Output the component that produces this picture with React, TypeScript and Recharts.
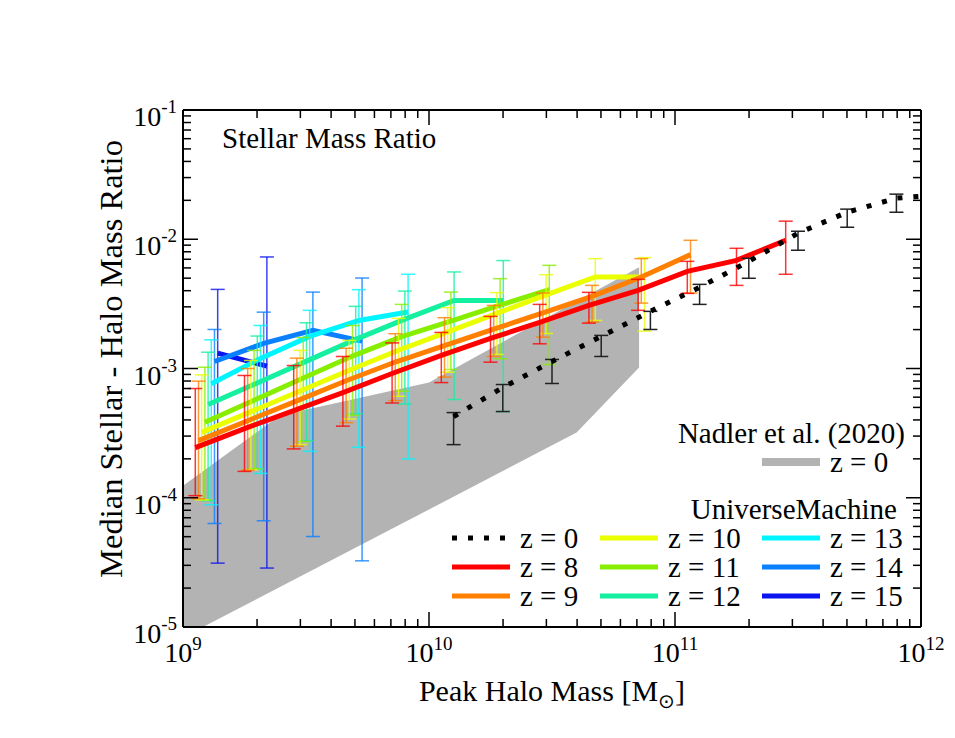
import React from "react";
import { ComposedChart, Line, Area, XAxis, YAxis, ErrorBar } from "recharts";

const FONT = '"Liberation Serif", "Times New Roman", serif';
const textStyle = { fontFamily: FONT };

// tick positions (minor + major) on both log axes
const massTicks = [
  1e9, 2e9, 3e9, 4e9, 5e9, 6e9, 7e9, 8e9, 9e9,
  1e10, 2e10, 3e10, 4e10, 5e10, 6e10, 7e10, 8e10, 9e10,
  1e11, 2e11, 3e11, 4e11, 5e11, 6e11, 7e11, 8e11, 9e11, 1e12,
];
const ratioTicks = [
  1e-5, 2e-5, 3e-5, 4e-5, 5e-5, 6e-5, 7e-5, 8e-5, 9e-5,
  1e-4, 2e-4, 3e-4, 4e-4, 5e-4, 6e-4, 7e-4, 8e-4, 9e-4,
  1e-3, 2e-3, 3e-3, 4e-3, 5e-3, 6e-3, 7e-3, 8e-3, 9e-3,
  1e-2, 2e-2, 3e-2, 4e-2, 5e-2, 6e-2, 7e-2, 8e-2, 9e-2, 1e-1,
];

// all values below are log10 (halo mass in Msun, stellar/halo ratio)
// Nadler et al. (2020) band
const nadlerMass = [9.0, 9.394, 10.0, 10.6, 10.854];
const nadlerLow = [-5.08, -4.69, -4.09, -3.496, -2.992];
const nadlerHigh = [-3.907, -3.364, -3.109, -2.479, -2.217];

// UniverseMachine z = 0
const z0Mass = [10.1, 10.3, 10.5, 10.7, 10.9, 11.1, 11.3, 11.5, 11.7, 11.9, 12.0];
const z0Ratio = [-3.372, -3.147, -2.946, -2.752, -2.558, -2.372, -2.171, -1.953, -1.791, -1.682, -1.667];
const z0Upper = [-3.341, -3.124, -2.93, -2.744, -2.558, -2.349, -2.147, -1.938, -1.767, -1.651];
const z0Lower = [-3.589, -3.333, -3.116, -2.907, -2.698, -2.504, -2.302, -2.085, -1.907, -1.791];

const z8Mass = [9.05, 9.25, 9.45, 9.65, 9.85, 10.05, 10.25, 10.45, 10.65, 10.85, 11.05, 11.25, 11.45];
const z8Ratio = [-3.612, -3.465, -3.326, -3.186, -3.039, -2.899, -2.767, -2.643, -2.512, -2.395, -2.248, -2.163, -2.008];
const z8Upper = [-3.155, -3.054, -2.977, -2.907, -2.802, -2.721, -2.597, -2.504, -2.411, -2.31, -2.171, -2.07, -1.86];
const z8Lower = [-3.984, -3.796, -3.622, -3.446, -3.267, -3.109, -2.951, -2.809, -2.649, -2.55, -2.419, -2.357, -2.271];

const z9Mass = [9.063, 9.263, 9.463, 9.663, 9.863, 10.063, 10.263, 10.463, 10.663, 10.863, 11.063];
const z9Ratio = [-3.558, -3.404, -3.25, -3.095, -2.95, -2.823, -2.696, -2.57, -2.442, -2.292, -2.119];
const z9Upper = [-3.098, -3.0, -2.92, -2.843, -2.731, -2.607, -2.512, -2.416, -2.357, -2.15, -2.008];
const z9Lower = [-4.008, -3.787, -3.602, -3.419, -3.248, -3.067, -2.907, -2.757, -2.641, -2.494, -2.416];

const z10Mass = [9.076, 9.276, 9.476, 9.676, 9.876, 10.076, 10.276, 10.476, 10.676, 10.876];
const z10Ratio = [-3.494, -3.334, -3.174, -3.014, -2.859, -2.716, -2.573, -2.43, -2.292, -2.292];
const z10Upper = [-3.049, -2.938, -2.86, -2.783, -2.612, -2.529, -2.413, -2.274, -2.15, -2.142];
const z10Lower = [-4.016, -3.783, -3.589, -3.391, -3.215, -3.029, -2.891, -2.729, -2.628, -2.711];

const z11Mass = [9.089, 9.289, 9.489, 9.689, 9.889, 10.089, 10.289, 10.489];
const z11Ratio = [-3.416, -3.245, -3.074, -2.904, -2.754, -2.633, -2.51, -2.39];
const z11Upper = [-2.99, -2.86, -2.76, -2.667, -2.504, -2.409, -2.305, -2.202];
const z11Lower = [-4.016, -3.777, -3.566, -3.364, -3.176, -3.008, -2.925, -2.969];

const z12Mass = [9.102, 9.302, 9.502, 9.702, 9.902, 10.102, 10.302];
const z12Ratio = [-3.279, -3.112, -2.943, -2.775, -2.618, -2.473, -2.473];
const z12Upper = [-2.874, -2.749, -2.646, -2.519, -2.401, -2.253, -2.165];
const z12Lower = [-4.023, -3.777, -3.558, -3.351, -3.274, -3.24, -3.333];

const z13Mass = [9.115, 9.315, 9.515, 9.715, 9.915];
const z13Ratio = [-3.118, -2.922, -2.752, -2.628, -2.563];
const z13Upper = [-2.778, -2.667, -2.55, -2.39, -2.271];
const z13Lower = [-4.054, -3.812, -3.641, -3.61, -3.7];

const z14Mass = [9.128, 9.328, 9.528, 9.728];
const z14Ratio = [-2.946, -2.806, -2.705, -2.788];
const z14Upper = [-2.698, -2.564, -2.409, -2.3];
const z14Lower = [-4.199, -4.178, -4.3, -4.488];

const z15Mass = [9.141, 9.341];
const z15Ratio = [-2.881, -2.982];
const z15Upper = [-2.388, -2.137];
const z15Lower = [-4.506, -4.544];

const toPoints = (mass: number[], ratio: number[], upper: number[], lower: number[]) =>
  mass.map((m, i) => {
    const r = 10 ** ratio[i];
    const err =
      upper[i] === undefined ? null : [r - 10 ** lower[i], 10 ** upper[i] - r];
    return { m: 10 ** m, r, err };
  });

const band = nadlerMass.map((m, i) => ({
  m: 10 ** m,
  range: [10 ** nadlerLow[i], 10 ** nadlerHigh[i]],
}));

const series = [
  { name: "z = 15", color: "#0a14ee", pts: toPoints(z15Mass, z15Ratio, z15Upper, z15Lower) },
  { name: "z = 14", color: "#0a80ff", pts: toPoints(z14Mass, z14Ratio, z14Upper, z14Lower) },
  { name: "z = 13", color: "#00f5ff", pts: toPoints(z13Mass, z13Ratio, z13Upper, z13Lower) },
  { name: "z = 12", color: "#14f0a0", pts: toPoints(z12Mass, z12Ratio, z12Upper, z12Lower) },
  { name: "z = 11", color: "#88ee00", pts: toPoints(z11Mass, z11Ratio, z11Upper, z11Lower) },
  { name: "z = 10", color: "#eaff00", pts: toPoints(z10Mass, z10Ratio, z10Upper, z10Lower) },
  { name: "z = 9", color: "#ff8000", pts: toPoints(z9Mass, z9Ratio, z9Upper, z9Lower) },
  { name: "z = 8", color: "#ff0000", pts: toPoints(z8Mass, z8Ratio, z8Upper, z8Lower) },
];
const z0Points = toPoints(z0Mass, z0Ratio, z0Upper, z0Lower);

const isMajor = (v: number) => {
  const e = Math.log10(v);
  return Math.abs(e - Math.round(e)) < 1e-6;
};

const BottomTick = (props: any) => {
  const { x, y, payload } = props;
  const major = isMajor(payload.value);
  return (
    <g>
      <line x1={x} x2={x} y1={y} y2={y - (major ? 15 : 8)} stroke="#000" strokeWidth={1.5} />
      {major && (
        <text x={x} y={y + 35} textAnchor="middle" style={textStyle} fontSize={28} fill="#000">
          10<tspan dy={-12} fontSize={19}>{Math.round(Math.log10(payload.value))}</tspan>
        </text>
      )}
    </g>
  );
};

const TopTick = (props: any) => {
  const { x, y, payload } = props;
  const major = isMajor(payload.value);
  return <line x1={x} x2={x} y1={y} y2={y + (major ? 15 : 8)} stroke="#000" strokeWidth={1.5} />;
};

const LeftTick = (props: any) => {
  const { x, y, payload } = props;
  const major = isMajor(payload.value);
  return (
    <g>
      <line x1={x} x2={x + (major ? 15 : 8)} y1={y} y2={y} stroke="#000" strokeWidth={1.5} />
      {major && (
        <text x={x - 6} y={y + 16} textAnchor="end" style={textStyle} fontSize={28} fill="#000">
          10<tspan dy={-13} fontSize={19}>{Math.round(Math.log10(payload.value))}</tspan>
        </text>
      )}
    </g>
  );
};

const RightTick = (props: any) => {
  const { x, y, payload } = props;
  const major = isMajor(payload.value);
  return <line x1={x} x2={x - (major ? 15 : 8)} y1={y} y2={y} stroke="#000" strokeWidth={1.5} />;
};

const legendRows = [
  [
    { name: "z = 0", color: "#000", dotted: true },
    { name: "z = 8", color: "#ff0000" },
    { name: "z = 9", color: "#ff8000" },
  ],
  [
    { name: "z = 10", color: "#eaff00" },
    { name: "z = 11", color: "#88ee00" },
    { name: "z = 12", color: "#14f0a0" },
  ],
  [
    { name: "z = 13", color: "#00f5ff" },
    { name: "z = 14", color: "#0a80ff" },
    { name: "z = 15", color: "#0a14ee" },
  ],
];
const colX = [444, 592, 754];

const Overlay = () => (
  <svg
    width={940}
    height={722}
    style={{ position: "absolute", left: 0, top: 0, pointerEvents: "none" }}
  >
    <text x={214} y={140} fontSize={29} fill="#000" style={textStyle}>Stellar Mass Ratio</text>
    <text x={544} y={693} fontSize={30} textAnchor="middle" fill="#000" style={textStyle}>
      Peak Halo Mass [M<tspan dy={7} fontSize={20}>⊙</tspan><tspan dy={-7}>]</tspan>
    </text>
    <text
      x={0}
      y={0}
      fontSize={32.5}
      textAnchor="middle"
      fill="#000"
      style={textStyle}
      transform="translate(114,351) rotate(-90)"
    >
      Median Stellar - Halo Mass Ratio
    </text>

    <text x={897} y={435} fontSize={29} textAnchor="end" fill="#000" style={textStyle}>
      Nadler et al. (2020)
    </text>
    <line x1={754} x2={812} y1={454} y2={454} stroke="#b3b3b3" strokeWidth={8} />
    <text x={822} y={464} fontSize={29} fill="#000" style={textStyle}>z = 0</text>

    <text x={889} y={511} fontSize={29} textAnchor="end" fill="#000" style={textStyle}>
      UniverseMachine
    </text>
    {legendRows.map((col, c) =>
      col.map((item, r) => {
        const y = 530 + r * 29;
        const x0 = colX[c];
        return (
          <g key={item.name}>
            <line
              x1={x0}
              x2={x0 + 58}
              y1={y}
              y2={y}
              stroke={item.color}
              strokeWidth={5}
              strokeDasharray={item.dotted ? "5 11" : undefined}
            />
            <text x={x0 + 68} y={y + 10} fontSize={29} fill="#000" style={textStyle}>
              {item.name}
            </text>
          </g>
        );
      })
    )}
  </svg>
);

export default function App() {
  return (
    <div style={{ position: "relative", width: 940, height: 722 }}>
      <ComposedChart
        width={940}
        height={722}
        margin={{ top: 92, right: 17, bottom: 43, left: 115 }}
      >
        <XAxis
          dataKey="m"
          type="number"
          scale="log"
          domain={[1e9, 1e12]}
          allowDataOverflow
          ticks={massTicks}
          interval={0}
          height={60}
          tickSize={0}
          tickMargin={0}
          tick={<BottomTick />}
          axisLine={{ stroke: "#000", strokeWidth: 2 }}
        />
        <XAxis
          xAxisId="top"
          orientation="top"
          dataKey="m"
          type="number"
          scale="log"
          domain={[1e9, 1e12]}
          allowDataOverflow
          ticks={massTicks}
          interval={0}
          height={10}
          tickSize={0}
          tickMargin={0}
          tick={<TopTick />}
          axisLine={{ stroke: "#000", strokeWidth: 2 }}
        />
        <YAxis
          type="number"
          scale="log"
          domain={[1e-5, 1e-1]}
          allowDataOverflow
          ticks={ratioTicks}
          interval={0}
          width={60}
          tickSize={0}
          tickMargin={0}
          tick={<LeftTick />}
          axisLine={{ stroke: "#000", strokeWidth: 2 }}
        />
        <YAxis
          yAxisId="right"
          orientation="right"
          type="number"
          scale="log"
          domain={[1e-5, 1e-1]}
          allowDataOverflow
          ticks={ratioTicks}
          interval={0}
          width={10}
          tickSize={0}
          tickMargin={0}
          tick={<RightTick />}
          axisLine={{ stroke: "#000", strokeWidth: 2 }}
        />

        <Area
          data={band}
          dataKey="range"
          type="linear"
          fill="#b3b3b3"
          fillOpacity={1}
          stroke="none"
          isAnimationActive={false}
        />

        {series.map((s) => (
          <Line
            key={s.name}
            data={s.pts}
            dataKey="r"
            type="linear"
            stroke={s.color}
            strokeWidth={5}
            dot={false}
            activeDot={false}
            isAnimationActive={false}
          >
            <ErrorBar
              dataKey="err"
              direction="y"
              width={7}
              stroke={s.color}
              strokeOpacity={0.8}
              strokeWidth={1.5}
            />
          </Line>
        ))}

        <Line
          data={z0Points}
          dataKey="r"
          type="linear"
          stroke="#000"
          strokeWidth={5}
          strokeDasharray="5 11"
          dot={false}
          activeDot={false}
          isAnimationActive={false}
        >
          <ErrorBar dataKey="err" direction="y" width={7} stroke="#222" strokeWidth={1.5} />
        </Line>
      </ComposedChart>
      <Overlay />
    </div>
  );
}
